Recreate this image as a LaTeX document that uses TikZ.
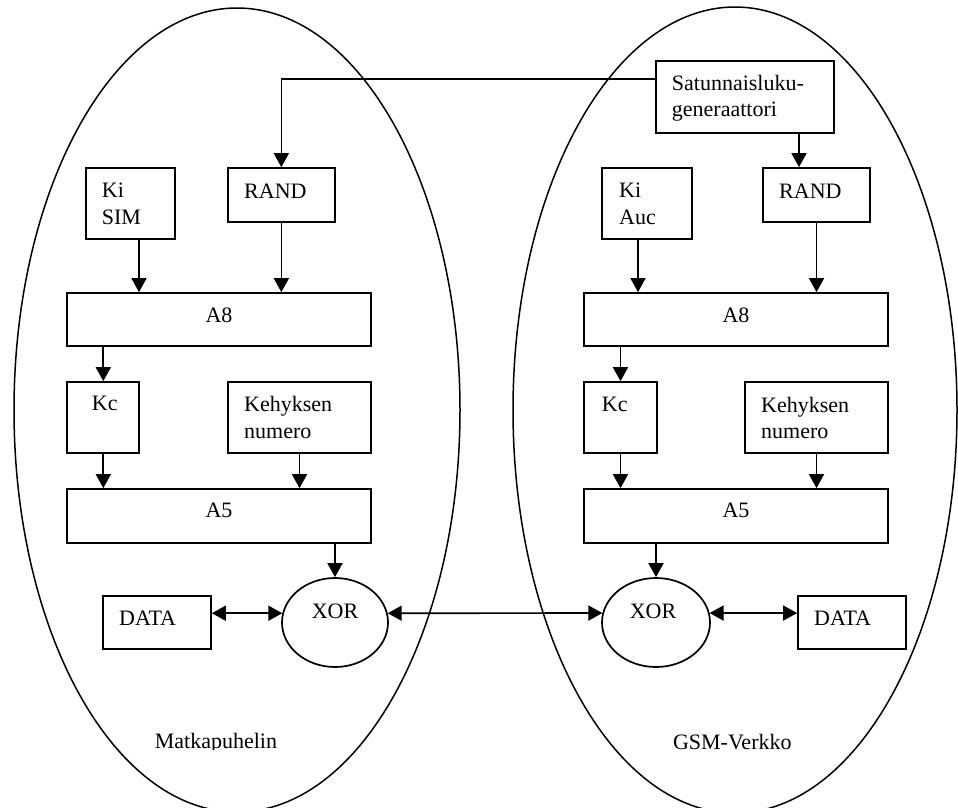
\documentclass[tikz,border=0pt]{standalone}
\usepackage{fontspec}
\setmainfont{Liberation Serif}
\usetikzlibrary{arrows.meta,shapes.geometric}
\begin{document}
\begin{tikzpicture}[x=1pt,y=-1pt,
  every node/.style={font=\fontsize{22}{26}\selectfont},
  blk/.style={draw, rectangle, inner sep=0pt, line width=1.7pt},
  sz/.style 2 args={minimum width=#1pt, minimum height=#2pt},
  oval/.style={draw, ellipse, inner sep=0pt, line width=1.7pt},
  zone/.style={draw, ellipse, inner sep=0pt, line width=1.5pt},
  txt/.style={inner sep=0pt, anchor=base west},
  ctxt/.style={inner sep=0pt, anchor=base},
  tip/.tip={Triangle[length=14pt,width=15pt]},
  arr/.style={-tip, line width=1.7pt},
  darr/.style={tip-tip, line width=1.7pt},
]
\useasboundingbox (0,0) rectangle (958,807);

% the two domains
\node[zone, sz={446}{804}] (phone) at (237,410) {};
\node[zone, sz={444}{806}] (net) at (735,410) {};

% ---- mobile phone side ----
\node[blk, sz={89.3}{71}]  (kisim) at (130.35,203.5) {};
\node[blk, sz={107.3}{53.7}] (randL) at (281.35,194.85) {};
\node[blk, sz={304}{53}]   (a8L)   at (219,319.5) {};
\node[blk, sz={72}{71}]    (kcL)   at (103.3,417.5) {};
\node[blk, sz={143}{71}]   (kehL)  at (299.5,417.5) {};
\node[blk, sz={304}{54}]   (a5L)   at (219,516) {};
\node[blk, sz={108}{53}]   (dataL) at (157,622.5) {};
\node[oval, sz={106}{89}]  (xorL)  at (335,622.5) {};

\node[txt] at (101.7,197.7) {Ki};
\node[txt] at (101.7,224) {SIM};
\node[txt] at (244,198) {RAND};
\node[ctxt] at (219,322) {A8};
\node[txt] at (91.7,410.7) {Kc};
\node[txt] at (244,411.7) {Kehyksen};
\node[txt] at (244,438.3) {numero};
\node[ctxt] at (219,517) {A5};
\node[txt] at (119,625) {DATA};
\node[ctxt] at (335,618) {XOR};
\begin{scope}
  \clip (100,700) rectangle (360,749.5);
  \node[ctxt] at (216,748.3) {Matkapuhelin};
\end{scope}

% ---- network side ----
\node[blk, sz={178.3}{71.7}] (satunn) at (744.85,96.85) {};
\node[blk, sz={90}{71}]    (kiauc) at (647,203.5) {};
\node[blk, sz={107}{54}]   (randR) at (816.5,195) {};
\node[blk, sz={304}{53}]   (a8R)   at (736,319.5) {};
\node[blk, sz={73}{71}]    (kcR)   at (620.5,417.5) {};
\node[blk, sz={143}{71}]   (kehR)  at (816.5,417.5) {};
\node[blk, sz={304}{54}]   (a5R)   at (736,516) {};
\node[oval, sz={108}{89}]  (xorR)  at (656,622.5) {};
\node[blk, sz={108}{53}]   (dataR) at (852,622.5) {};

\node[txt] at (671.7,90.7) {Satunnaisluku-};
\node[txt] at (671.7,116.7) {generaattori};
\node[txt] at (619,197.7) {Ki};
\node[txt] at (619,224) {Auc};
\node[txt] at (779,198) {RAND};
\node[ctxt] at (736,322) {A8};
\node[txt] at (601.7,411) {Kc};
\node[txt] at (761,412) {Kehyksen};
\node[txt] at (761,438.3) {numero};
\node[ctxt] at (736,517) {A5};
\node[ctxt] at (653,618) {XOR};
\node[txt] at (814,625) {DATA};
\node[ctxt] at (732.3,749) {GSM-Verkko};

% ---- connectors ----
\draw[arr] (satunn.west |- 0,79) -| (randL.north);
\draw[arr] (satunn.south -| 799,0) -- (randR.north -| 799,0);

\draw[arr] (kisim.south -| 139,0) -- (a8L.north -| 139,0);
\draw[arr] (randL.south) -- (a8L.north -| randL.south);
\draw[arr] (a8L.south -| kcL.north) -- (kcL.north);
\draw[arr] (kcL.south) -- (a5L.north -| kcL.south);
\draw[arr] (kehL.south) -- (a5L.north -| kehL.south);
\draw[arr] (a5L.south -| xorL.north) -- (xorL.north);

\draw[arr] (kiauc.south -| 638,0) -- (a8R.north -| 638,0);
\draw[arr] (randR.south) -- (a8R.north -| randR.south);
\draw[arr] (a8R.south -| kcR.north) -- (kcR.north);
\draw[arr] (kcR.south) -- (a5R.north -| kcR.south);
\draw[arr] (kehR.south) -- (a5R.north -| kehR.south);
\draw[arr] (a5R.south -| xorR.north) -- (xorR.north);

\draw[darr] (dataL.east |- xorL.170) -- (xorL.170);
\draw[darr] (xorL.10) -- (xorR.170);
\draw[darr] (xorR.10) -- (dataR.west |- xorR.10);
\end{tikzpicture}
\end{document}
